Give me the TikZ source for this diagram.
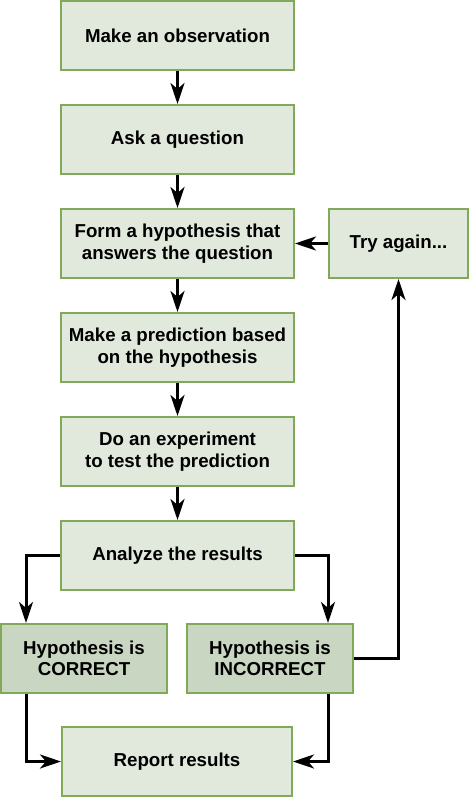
\documentclass[tikz,border=0pt]{standalone}
\usepackage{fontspec}
\setmainfont{Liberation Sans}
\usetikzlibrary{arrows.meta,positioning}
\definecolor{boxfill}{HTML}{E1E8DC}
\definecolor{boxdark}{HTML}{C9D6C1}
\definecolor{boxline}{HTML}{80AA58}
\tikzset{tipA/.tip={Stealth[length=21pt,width=14pt,inset=6pt]}}
\begin{document}
\begin{tikzpicture}[x=1pt,y=-1pt,
  stepbox/.style={draw=boxline, line width=2pt, fill=boxfill, rectangle,
    minimum height=69pt, inner sep=0pt, align=center,
    font=\fontsize{18.7}{21.5}\selectfont\bfseries},
  darkbox/.style={stepbox, fill=boxdark},
  conn/.style={draw=black, line width=3pt, -tipA}]
\useasboundingbox (0,0) rectangle (469,798);
\node[stepbox, minimum width=233pt] (b1) at (177.5,35.5) {Make an observation};
\node[stepbox, minimum width=233pt] (b2) at (177.5,139.5) {Ask a question};
\node[stepbox, minimum width=233pt] (b3) at (177.5,243.5) {Form a hypothesis that\\answers the question};
\node[stepbox, minimum width=233pt] (b4) at (177.5,347.5) {Make a prediction based\\on the hypothesis};
\node[stepbox, minimum width=233pt] (b5) at (177.5,451.5) {Do an experiment\\to test the prediction};
\node[stepbox, minimum width=233pt] (b6) at (177.5,555.5) {Analyze the results};
\node[darkbox, minimum width=166pt] (c) at (84,658.5) {Hypothesis is\\CORRECT};
\node[darkbox, minimum width=166pt] (i) at (270,658.5) {Hypothesis is\\INCORRECT};
\node[stepbox, minimum width=230pt] (r) at (177,761.5) {Report results};
\node[stepbox, minimum width=139pt] (t) at (398.5,243.5) {Try again...};
\draw[conn] (b1) -- (b2);
\draw[conn] (b2) -- (b3);
\draw[conn] (b3) -- (b4);
\draw[conn] (b4) -- (b5);
\draw[conn] (b5) -- (b6);
\draw[conn] (b6.west) -| ([xshift=26pt]c.north west);
\draw[conn] (b6.east) -| ([xshift=-26pt]i.north east);
\draw[conn] ([xshift=26pt]c.south west) |- (r.west);
\draw[conn] ([xshift=-26pt]i.south east) |- (r.east);
\draw[conn] (i.east) -| (t.south);
\draw[conn] (t.west) -- (b3.east);
\end{tikzpicture}
\end{document}
